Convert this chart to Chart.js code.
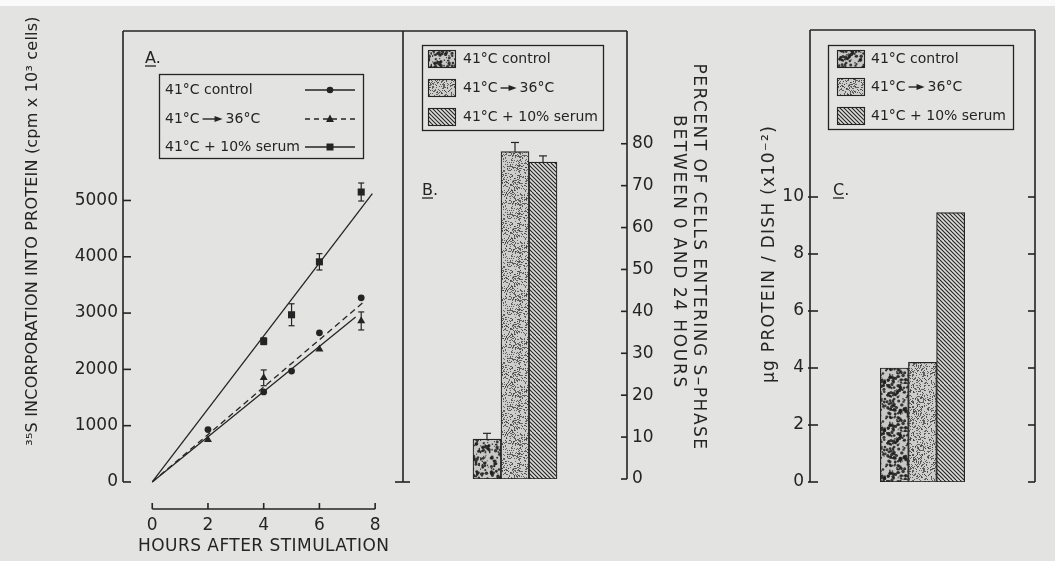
<!DOCTYPE html>
<html>
<head>
<meta charset="utf-8">
<script src="https://cdn.jsdelivr.net/npm/chart.js@4"></script>
<style>
html, body { margin: 0; padding: 0; background: #e3e3e1; }
#wrap { position: relative; width: 1055px; height: 561px; overflow: hidden; background: #e3e3e1; }
#wrap canvas { position: absolute; left: 0; top: 0; }
#strip { position: absolute; left: 0; top: 0; width: 1055px; height: 6px; background: #fafafa; }
</style>
</head>
<body>
<div id="wrap">
  <div id="strip"></div>
  <canvas id="panelA" width="1055" height="561"></canvas>
  <canvas id="panelB" width="1055" height="561"></canvas>
  <canvas id="panelC" width="1055" height="561"></canvas>
</div>
<script>
// Data
const groupLabels = ['41°C control', '41°C → 36°C', '41°C + 10% serum'];

// A. 35S incorporation vs time
const hourTicks = [0, 2, 4, 6, 8];
const cpmTicks = [0, 1000, 2000, 3000, 4000, 5000];
const controlHours = [2, 4, 5, 6, 7.5];
const controlCpm = [930, 1600, 1970, 2650, 3270];
const shiftHours = [2, 4, 6, 7.5];
const shiftCpm = [750, 1850, 2360, 2860];
const shiftErr = [0, 140, 0, 160];
const serumHours = [4, 5, 6, 7.5];
const serumCpm = [2500, 2970, 3910, 5150];
const serumErr = [60, 195, 145, 160];
// drawn regression lines (start, end)
const controlFitHours = [0, 7.3];
const controlFitCpm = [0, 2930];
const shiftFitHours = [0, 7.55];
const shiftFitCpm = [0, 3180];
const serumFitHours = [0, 7.9];
const serumFitCpm = [0, 5120];

// B. percent of cells entering S-phase
const barSlots = [3, 4, 5];
const pctTicks = [0, 10, 20, 30, 40, 50, 60, 70, 80];
const sPhasePct = [9.5, 78.1, 75.6];
const sPhaseErr = [1.4, 2.2, 1.5];

// C. protein per dish
const proteinTicks = [0, 2, 4, 6, 8, 10];
const proteinVals = [4.0, 4.2, 9.45];

const INK = '#242424';
const FONT = '"DejaVu Sans", sans-serif';
const tickFont = { family: FONT, size: 17 };

// bar textures
let seed = 17;
function rnd() {
    seed = (Math.imul(seed, 1664525) + 1013904223) >>> 0;
    return seed / 4294967296;
}
function makePattern(kind) {
    const c = document.createElement('canvas');
    c.width = 48; c.height = 48;
    const g = c.getContext('2d');
    if (kind === 'mottled') {
        g.fillStyle = '#c8c8c6';
        g.fillRect(0, 0, 48, 48);
        g.fillStyle = 'rgba(30,30,30,0.85)';
        for (let i = 0; i < 320; i++) {
            g.beginPath();
            g.arc(rnd() * 48, rnd() * 48, 0.5 + rnd() * 1.3, 0, Math.PI * 2);
            g.fill();
        }
    } else if (kind === 'stipple') {
        g.fillStyle = '#cdcdcb';
        g.fillRect(0, 0, 48, 48);
        g.fillStyle = 'rgba(60,60,60,0.75)';
        for (let i = 0; i < 800; i++) g.fillRect(Math.floor(rnd() * 48), Math.floor(rnd() * 48), 1, 1);
    } else {
        g.fillStyle = '#dcdcda';
        g.fillRect(0, 0, 48, 48);
        g.strokeStyle = INK;
        g.lineWidth = 1.1;
        for (let i = -48; i <= 48; i += 4) {
            g.beginPath();
            g.moveTo(i, 0);
            g.lineTo(i + 48, 48);
            g.stroke();
        }
    }
    return g.createPattern(c, 'repeat');
}
const barPatterns = [makePattern('mottled'), makePattern('stipple'), makePattern('hatch')];

function line(ctx, x1, y1, x2, y2) {
    ctx.beginPath();
    ctx.moveTo(x1, y1);
    ctx.lineTo(x2, y2);
    ctx.stroke();
}

function rotText(ctx, text, x, y, angle, size, spacing) {
    ctx.save();
    ctx.translate(x, y);
    ctx.rotate(angle);
    ctx.font = size + 'px ' + FONT;
    ctx.letterSpacing = (spacing || 0) + 'px';
    ctx.textAlign = 'center';
    ctx.textBaseline = 'middle';
    ctx.fillStyle = INK;
    ctx.fillText(text, 0, 0);
    ctx.restore();
}

function panelLabel(ctx, text, x, y) {
    ctx.font = '16px ' + FONT;
    ctx.textAlign = 'left';
    ctx.textBaseline = 'alphabetic';
    ctx.fillStyle = INK;
    ctx.fillText(text, x, y);
    ctx.lineWidth = 1.3;
    line(ctx, x, y + 3, x + 11, y + 3);
}

// legend text, with the arrow drawn as a graphic
function legendText(ctx, label, x, y, arrowLen) {
    ctx.font = '14px ' + FONT;
    ctx.textAlign = 'left';
    ctx.textBaseline = 'middle';
    ctx.fillStyle = INK;
    const parts = label.split(' → ');
    ctx.fillText(parts[0], x, y);
    if (parts.length < 2) return;
    const a = x + ctx.measureText(parts[0]).width + 3;
    const b = a + arrowLen;
    ctx.lineWidth = 1.4;
    line(ctx, a, y, b - 6, y);
    ctx.beginPath();
    ctx.moveTo(b, y);
    ctx.lineTo(b - 8, y - 3);
    ctx.lineTo(b - 8, y + 3);
    ctx.closePath();
    ctx.fill();
    ctx.fillText(parts[1], b + 3, y);
}

function marker(ctx, style, x, y) {
    ctx.beginPath();
    if (style === 'circle') ctx.arc(x, y, 3.3, 0, Math.PI * 2);
    else if (style === 'rect') ctx.rect(x - 3.5, y - 3.5, 7, 7);
    else { ctx.moveTo(x, y - 4.5); ctx.lineTo(x + 4, y + 3); ctx.lineTo(x - 4, y + 3); ctx.closePath(); }
    ctx.fill();
}

function barLegend(ctx, box, swX, txX, rows, arrowLen) {
    ctx.strokeStyle = INK;
    ctx.lineWidth = 1.3;
    ctx.strokeRect(box[0] + 0.5, box[1] + 0.5, box[2] - box[0], box[3] - box[1]);
    groupLabels.forEach((lab, i) => {
        ctx.fillStyle = barPatterns[i];
        ctx.fillRect(swX, rows[i] - 9, 27, 18);
        ctx.lineWidth = 1.1;
        ctx.strokeRect(swX + 0.5, rows[i] - 8.5, 27, 17);
        legendText(ctx, lab, txX, rows[i], arrowLen);
    });
}

function fitDs(xs, ys, dash) {
    return {
        data: xs.map((x, i) => ({ x: x, y: ys[i] })),
        showLine: true, pointRadius: 0, borderColor: INK, borderWidth: 1.3, borderDash: dash
    };
}
function pointDs(xs, ys, style, r) {
    return {
        data: xs.map((x, i) => ({ x: x, y: ys[i] })),
        showLine: false, pointStyle: style, pointRadius: r,
        backgroundColor: INK, borderColor: INK, borderWidth: 0
    };
}

const common = {
    responsive: false,
    animation: false,
    devicePixelRatio: 1,
    plugins: { legend: { display: false }, tooltip: { enabled: false } }
};

// ---------- Panel A ----------
const panelAPlugin = {
    id: 'panelA',
    afterDatasetsDraw(chart) {
        const ctx = chart.ctx, xs = chart.scales.x, ys = chart.scales.y;
        ctx.save();
        ctx.strokeStyle = INK;
        ctx.lineWidth = 1.2;
        [[serumHours, serumCpm, serumErr], [shiftHours, shiftCpm, shiftErr]].forEach(([hx, vy, err]) => {
            hx.forEach((h, i) => {
                if (!err[i]) return;
                const px = xs.getPixelForValue(h);
                const top = ys.getPixelForValue(vy[i] + err[i]);
                const bot = ys.getPixelForValue(vy[i] - err[i]);
                line(ctx, px, top, px, bot);
                line(ctx, px - 3, top, px + 3, top);
                line(ctx, px - 3, bot, px + 3, bot);
            });
        });
        ctx.restore();
    },
    afterDraw(chart) {
        const ctx = chart.ctx, xs = chart.scales.x, ys = chart.scales.y, a = chart.chartArea;
        ctx.save();
        ctx.strokeStyle = INK;
        ctx.fillStyle = INK;
        ctx.lineWidth = 1.6;
        const y0 = ys.getPixelForValue(0);
        line(ctx, a.left, a.top, a.right, a.top);
        line(ctx, a.left, a.top, a.left, y0);
        cpmTicks.forEach(v => {
            const py = ys.getPixelForValue(v);
            line(ctx, a.left, py, a.left + 8, py);
        });
        // x axis drawn below the data area
        const xb = a.bottom;
        line(ctx, xs.getPixelForValue(hourTicks[0]), xb, xs.getPixelForValue(hourTicks[hourTicks.length - 1]), xb);
        hourTicks.forEach(v => {
            const px = xs.getPixelForValue(v);
            line(ctx, px, xb, px, xb - 6);
        });
        // titles
        rotText(ctx, 'HOURS AFTER STIMULATION', xs.getPixelForValue(4), 547, 0, 17, 0.45);
        rotText(ctx, '³⁵S INCORPORATION INTO PROTEIN (cpm x 10³ cells)', 33, 231, -Math.PI / 2, 16, 0.2);
        panelLabel(ctx, 'A.', 145, 63);
        // legend
        ctx.lineWidth = 1.3;
        ctx.strokeRect(159.5, 74.5, 204, 84);
        const rows = [90, 119, 147];
        const styles = ['circle', 'triangle', 'rect'];
        groupLabels.forEach((lab, i) => {
            legendText(ctx, lab, 165, rows[i], 20);
            ctx.lineWidth = 1.3;
            ctx.setLineDash(i === 1 ? [5, 4] : []);
            line(ctx, 305, rows[i], 355, rows[i]);
            ctx.setLineDash([]);
            marker(ctx, styles[i], 330, rows[i]);
        });
        ctx.restore();
    }
};

new Chart(document.getElementById('panelA'), {
    type: 'scatter',
    data: {
        datasets: [
            fitDs(serumFitHours, serumFitCpm, []),
            fitDs(controlFitHours, controlFitCpm, []),
            fitDs(shiftFitHours, shiftFitCpm, [6, 4]),
            pointDs(serumHours, serumCpm, 'rect', 5),
            pointDs(controlHours, controlCpm, 'circle', 3.4),
            pointDs(shiftHours, shiftCpm, 'triangle', 4.6)
        ]
    },
    options: Object.assign({}, common, {
        layout: { padding: { left: 0, top: 31, right: 652, bottom: 0 } },
        scales: {
            x: {
                type: 'linear', min: -1.05, max: 9.0,
                grid: { display: false, drawTicks: false }, border: { display: false },
                afterBuildTicks: s => { s.ticks = hourTicks.map(v => ({ value: v })); },
                afterFit: s => { s.height = 52; },
                ticks: { padding: 6, font: tickFont, color: INK, maxRotation: 0, autoSkip: false, callback: v => String(v) }
            },
            y: {
                type: 'linear', min: -480, max: 8010,
                grid: { display: false, drawTicks: false }, border: { display: false },
                afterBuildTicks: s => { s.ticks = cpmTicks.map(v => ({ value: v })); },
                afterFit: s => { s.width = 123; },
                ticks: { padding: 5, font: tickFont, color: INK, autoSkip: false, callback: v => String(v) }
            }
        }
    }),
    plugins: [panelAPlugin]
});

// ---------- Panel B ----------
const panelBPlugin = {
    id: 'panelB',
    afterDraw(chart) {
        const ctx = chart.ctx, xs = chart.scales.x, ys = chart.scales.y, a = chart.chartArea;
        ctx.save();
        ctx.strokeStyle = INK;
        ctx.fillStyle = INK;
        ctx.lineWidth = 1.6;
        const y0 = ys.getPixelForValue(0);
        line(ctx, a.left, a.top, a.right, a.top);
        line(ctx, a.left, a.top, a.left, 482);
        line(ctx, a.left - 8, 482, a.left + 7, 482);
        line(ctx, a.right, a.top, a.right, y0);
        pctTicks.forEach(v => {
            const py = ys.getPixelForValue(v);
            line(ctx, a.right - 6, py, a.right, py);
        });
        // error bars
        ctx.lineWidth = 1.2;
        barSlots.forEach((s, i) => {
            const px = xs.getPixelForValue(s);
            const top = ys.getPixelForValue(sPhasePct[i] + sPhaseErr[i]);
            line(ctx, px, ys.getPixelForValue(sPhasePct[i]), px, top);
            line(ctx, px - 4, top, px + 4, top);
        });
        rotText(ctx, 'PERCENT OF CELLS ENTERING S–PHASE', 698, 257, Math.PI / 2, 17, 1.5);
        rotText(ctx, 'BETWEEN 0 AND 24 HOURS', 678, 252, Math.PI / 2, 17, 1.7);
        panelLabel(ctx, 'B.', 422, 195);
        barLegend(ctx, [422, 45, 603, 130], 428, 463, [59, 88, 117], 16);
        ctx.restore();
    }
};

new Chart(document.getElementById('panelB'), {
    type: 'bar',
    data: {
        datasets: [{
            data: barSlots.map((x, i) => ({ x: x, y: sPhasePct[i] })),
            backgroundColor: barPatterns,
            borderColor: INK, borderWidth: 1.2, borderSkipped: false,
            barPercentage: 1, categoryPercentage: 1
        }]
    },
    options: Object.assign({}, common, {
        layout: { padding: { left: 403, top: 31, right: 0, bottom: 82 } },
        scales: {
            x: { type: 'linear', min: 0, max: 8, offset: false, display: false },
            y: {
                position: 'right', min: 0, max: 106.9,
                grid: { display: false, drawTicks: false }, border: { display: false },
                afterBuildTicks: s => { s.ticks = pctTicks.map(v => ({ value: v })); },
                afterFit: s => { s.width = 428; },
                ticks: { padding: 5, font: tickFont, color: INK, autoSkip: false, callback: v => String(v) }
            }
        }
    }),
    plugins: [panelBPlugin]
});

// ---------- Panel C ----------
const panelCPlugin = {
    id: 'panelC',
    afterDraw(chart) {
        const ctx = chart.ctx, ys = chart.scales.y, a = chart.chartArea;
        ctx.save();
        ctx.strokeStyle = INK;
        ctx.fillStyle = INK;
        ctx.lineWidth = 1.6;
        const y0 = ys.getPixelForValue(0);
        line(ctx, a.left, a.top, a.right, a.top);
        line(ctx, a.left, a.top, a.left, y0);
        line(ctx, a.right, a.top, a.right, y0);
        proteinTicks.forEach(v => {
            const py = ys.getPixelForValue(v);
            line(ctx, a.left - 2, py, a.left + 8, py);
            line(ctx, a.right - 7, py, a.right, py);
        });
        rotText(ctx, 'µg PROTEIN / DISH (x10⁻²)', 770, 254, -Math.PI / 2, 17, 1.3);
        panelLabel(ctx, 'C.', 833, 195);
        barLegend(ctx, [828, 45, 1013, 129], 837, 871, [59, 87, 116], 16);
        ctx.restore();
    }
};

new Chart(document.getElementById('panelC'), {
    type: 'bar',
    data: {
        datasets: [{
            data: barSlots.map((x, i) => ({ x: x, y: proteinVals[i] })),
            backgroundColor: barPatterns,
            borderColor: INK, borderWidth: 1.2, borderSkipped: false,
            barPercentage: 1, categoryPercentage: 1
        }]
    },
    options: Object.assign({}, common, {
        layout: { padding: { left: 0, top: 30, right: 20, bottom: 79 } },
        scales: {
            x: { type: 'linear', min: 0, max: 8, offset: false, display: false },
            y: {
                position: 'left', min: 0, max: 15.86,
                grid: { display: false, drawTicks: false }, border: { display: false },
                afterBuildTicks: s => { s.ticks = proteinTicks.map(v => ({ value: v })); },
                afterFit: s => { s.width = 810; },
                ticks: { padding: 6, font: tickFont, color: INK, autoSkip: false, callback: v => String(v) }
            }
        }
    }),
    plugins: [panelCPlugin]
});
</script>
</body>
</html>
